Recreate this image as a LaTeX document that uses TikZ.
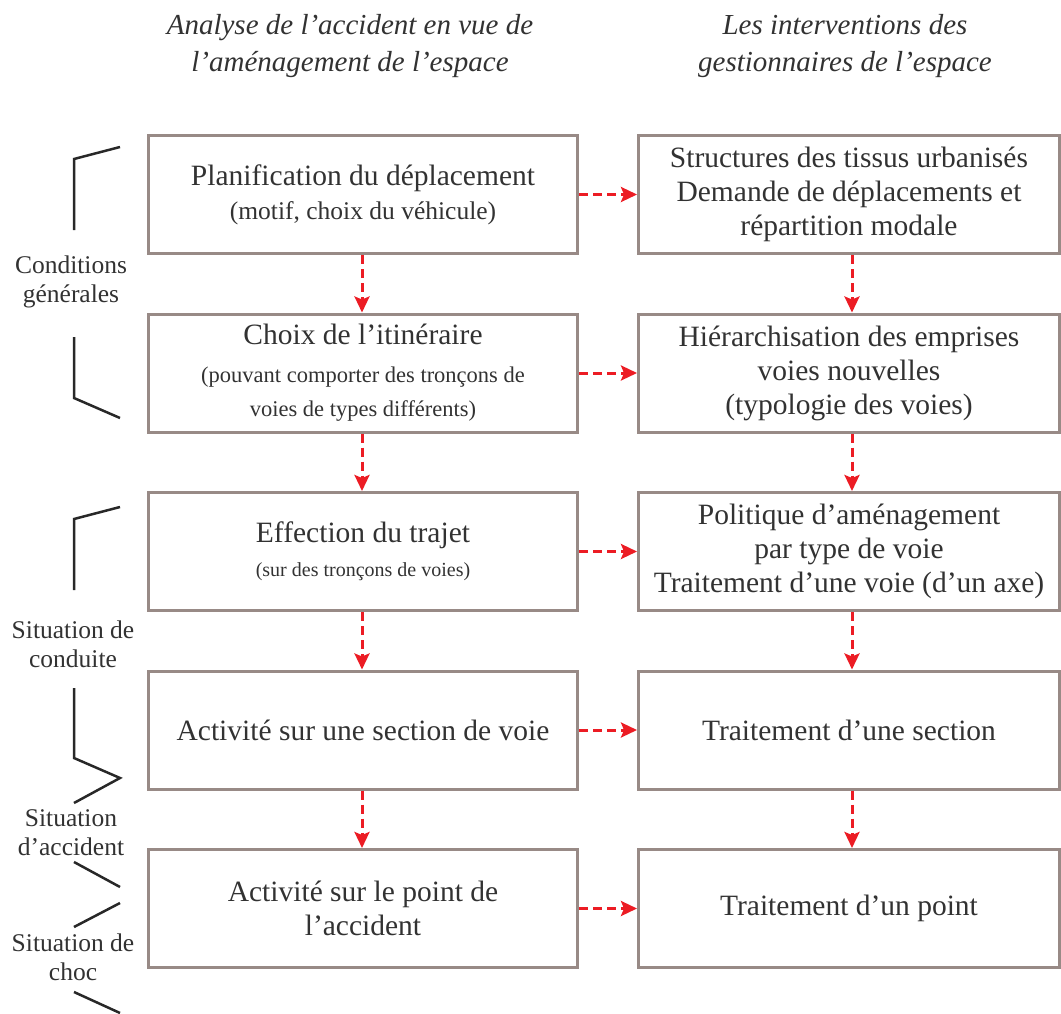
\documentclass[tikz,border=0pt]{standalone}
\usepackage{fontspec}
\setmainfont{Liberation Serif}
\usetikzlibrary{arrows.meta}
\definecolor{txt}{RGB}{50,50,50}
\definecolor{boxc}{RGB}{152,138,134}
\definecolor{arr}{RGB}{236,28,36}
\definecolor{brk}{RGB}{40,40,40}
\tikzset{
  stagebox/.style={draw=boxc, line width=3pt, rectangle, inner sep=0pt,
    minimum height=118pt, align=center, text=txt,
    font=\fontsize{29.5}{34}\selectfont},
  leftbox/.style={stagebox, minimum width=429pt},
  rightbox/.style={stagebox, minimum width=421pt},
  flow/.style={draw=arr, line width=3pt, dash pattern=on 9pt off 5pt,
    -{Stealth[length=16pt,width=15pt,inset=3pt]}},
  sidelabel/.style={align=center, text=txt, inner sep=0pt,
    font=\fontsize{25.5}{29}\selectfont},
  header/.style={align=center, text=txt, inner sep=0pt,
    font=\fontsize{29}{37}\selectfont\itshape},
  bracket/.style={draw=brk, line width=2.5pt}
}
\begin{document}
\begin{tikzpicture}[x=1pt,y=-1pt]
\useasboundingbox (0,0) rectangle (1061,1014);

% headers
\node[header] (h1) at (350,46.5) {Analyse de l’accident en vue de\\l’aménagement de l’espace};
\node[header] (h2) at (845,46.5) {Les interventions des\\gestionnaires de l’espace};

% left column
\node[leftbox] (l1) at (363,194.5) {Planification du déplacement\\
  \fontsize{25.5}{29}\selectfont (motif, choix du véhicule)};
\node[leftbox] (l2) at (363,373) {Choix de l’itinéraire\\[4pt]
  \fontsize{22.5}{30}\selectfont (pouvant comporter des tronçons de\\
  \fontsize{22.5}{30}\selectfont voies de types différents)};
\node[leftbox] (l3) at (363,551.5) {Effection du trajet\\
  \fontsize{20}{33}\selectfont (sur des tronçons de voies)};
\node[leftbox] (l4) at (363,730) {Activité sur une section de voie};
\node[leftbox] (l5) at (363,908.5) {Activité sur le point de\\l’accident};

% right column
\node[rightbox] (r1) at (849,194.5) {Structures des tissus urbanisés\\Demande de déplacements et\\répartition modale};
\node[rightbox] (r2) at (849,373) {Hiérarchisation des emprises\\voies nouvelles\\(typologie des voies)};
\node[rightbox] (r3) at (849,551.5) {Politique d’aménagement\\par type de voie\\Traitement d’une voie (d’un axe)};
\node[rightbox] (r4) at (849,730) {Traitement d’une section};
\node[rightbox] (r5) at (849,908.5) {Traitement d’un point};

% arrows
\coordinate (xl) at (362,0);
\coordinate (xr) at (852,0);
\foreach \i in {1,...,5}{
  \draw[flow] (l\i.east) -- (r\i.west);
}
\foreach \i/\j in {1/2,2/3,3/4,4/5}{
  \draw[flow] (l\i.south -| xl) -- (l\j.north -| xl);
  \draw[flow] (r\i.south -| xr) -- (r\j.north -| xr);
}

% side labels
\node[sidelabel] (s1) at (71,282) {Conditions\\générales};
\node[sidelabel] (s2) at (73,644) {Situation de\\conduite};
\node[sidelabel] (s3) at (71,833) {Situation\\d’accident};
\node[sidelabel] (s4) at (73,957) {Situation de\\choc};

% bracket marks
\draw[bracket] (120,147) -- (74,159) -- (74,230);
\draw[bracket] (74,337) -- (74,398) -- (120,418);
\draw[bracket] (120,507) -- (74,519) -- (74,590);
\draw[bracket] (74,688) -- (74,758) -- (120,778) -- (74,803);
\draw[bracket] (74,862) -- (120,887);
\draw[bracket] (120,903) -- (74,927);
\draw[bracket] (74,992) -- (120,1013);
\end{tikzpicture}
\end{document}
